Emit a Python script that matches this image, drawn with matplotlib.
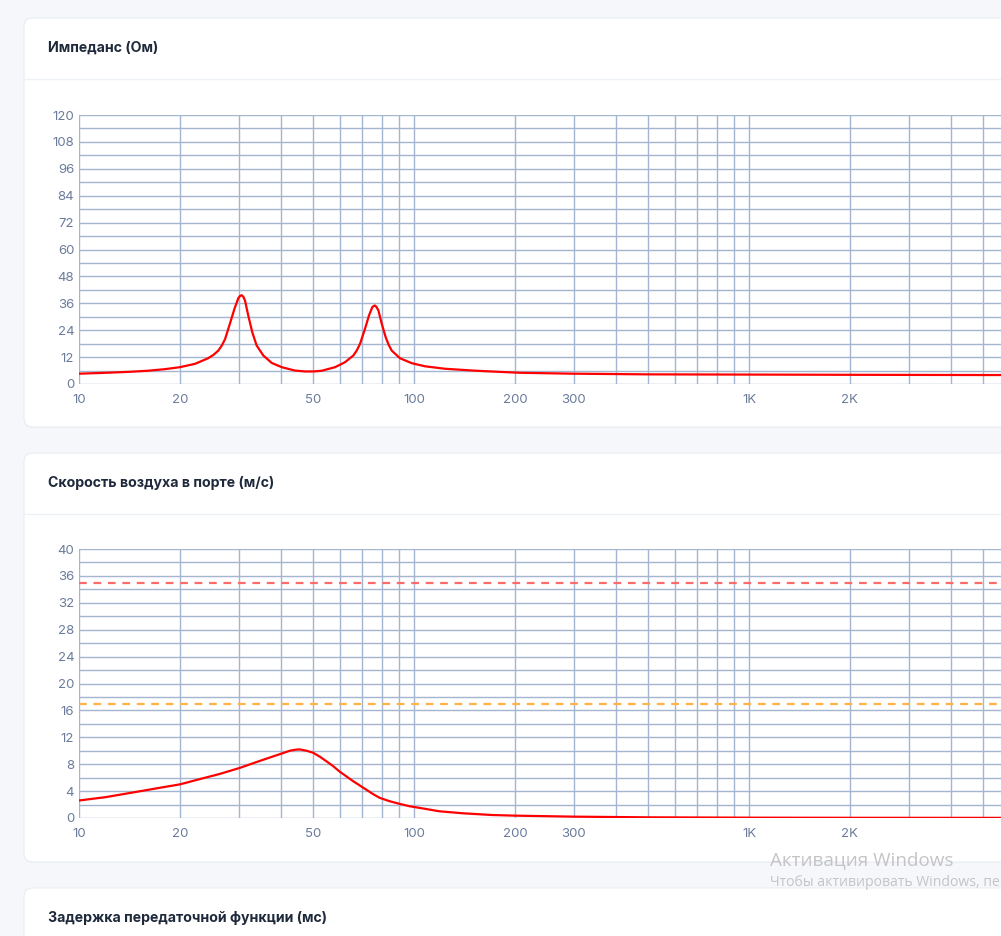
import matplotlib
matplotlib.use("Agg")
import matplotlib.pyplot as plt
from matplotlib.patches import FancyBboxPatch
from matplotlib.ticker import FixedLocator, NullFormatter
import numpy as np

# ---------------- data ----------------
imp_freq = [10, 12, 14, 16, 18, 20, 22.2, 24.3, 25.2, 26.05, 26.7, 27.3, 28.2, 29.1, 29.9, 30.25,
            30.6, 30.95, 31.3, 32.0, 32.9, 33.9, 35.5, 37.6, 40.3, 44.1, 47.3, 50, 53, 58.1,
            62.2, 65.9, 67.5, 69.0, 71.4, 73.4, 75.1, 76.0, 76.5, 77.3, 78.3, 80.1, 82.3,
            84.0, 85.8, 90.8, 98.4, 107.8, 123.7, 150, 164, 207, 300, 500, 1000, 2000, 5000,
            10000, 20000]
imp_ohm = [4.6, 5.0, 5.4, 5.9, 6.6, 7.5, 9.0, 11.5, 13.0, 14.9, 17.2, 20.1, 26.8, 33.5, 38.3,
           39.3, 39.6, 38.9, 37.2, 30.6, 23.1, 17.2, 12.7, 9.4, 7.5, 6.0, 5.6, 5.6, 5.9, 7.5,
           9.7, 12.7, 15.0, 17.9, 24.6, 30.6, 34.3, 34.9, 35.0, 34.3, 32.8, 26.9, 20.9,
           17.5, 14.9, 11.5, 9.3, 7.9, 6.8, 6.0, 5.7, 5.0, 4.6, 4.3, 4.2, 4.1, 4.0,
           4.0, 4.0]

vel_freq = [10, 12, 14.5, 17, 20, 23, 26.3, 30.2, 34.7, 39.8, 42.6, 44.2, 45.6, 47.8, 50,
            52.4, 54.9, 57.4, 60, 65.7, 72.1, 75.5, 79, 84.5, 90.6, 97, 104, 119, 140, 170,
            200, 300, 500, 1000, 2000, 5000, 20000]
vel_ms = [2.6, 3.1, 3.8, 4.4, 5.0, 5.8, 6.55, 7.45, 8.5, 9.5, 10.0, 10.15, 10.2, 10.0, 9.7,
          9.1, 8.4, 7.7, 6.9, 5.5, 4.2, 3.55, 3.0, 2.5, 2.1, 1.75, 1.5, 1.0, 0.7, 0.45,
          0.35, 0.2, 0.1, 0.05, 0.03, 0.02, 0.01]
vel_limit_red = 35
vel_limit_orange = 17

x_tick_values = [10, 20, 50, 100, 200, 300, 1000, 2000]
x_tick_labels = ["10", "20", "50", "100", "200", "300", "1K", "2K"]
imp_y_ticks = list(range(0, 121, 12))
vel_y_ticks = list(range(0, 41, 4))

titles = ["Импеданс (Ом)", "Скорость воздуха в порте (м/с)", "Задержка передаточной функции (мс)"]

# ---------------- figure ----------------
W, H = 1001, 936
fig = plt.figure(figsize=(W / 100, H / 100), dpi=100)
fig.patch.set_facecolor("#f5f7fa")

bg = fig.add_axes([0, 0, 1, 1])
bg.set_xlim(0, W)
bg.set_ylim(H, 0)
bg.axis("off")
bg.set_zorder(0)

TITLE_C = "#1e293b"
TICK_C = "#6a7b9b"
GRID_C = "#a3b5d0"

cards = [(18, 409), (453, 409), (888, 200)]
for (top, h), title in zip(cards, titles):
    shadow = FancyBboxPatch((24, top + 1), 1100, h, boxstyle="round,pad=0,rounding_size=9",
                            facecolor="#eef1f5", edgecolor="none", zorder=1)
    bg.add_patch(shadow)
    card = FancyBboxPatch((24, top), 1100, h, boxstyle="round,pad=0,rounding_size=9",
                          facecolor="white", edgecolor="#e9edf2", linewidth=0.8, zorder=2)
    bg.add_patch(card)
    bg.plot([24.5, 1001], [top + 60.5, top + 60.5], color="#eef1f5", lw=1, zorder=3)
    bg.text(48, top + 29.5, title, fontsize=10.2, fontweight="bold", color=TITLE_C,
            family=["Inter", "DejaVu Sans"], va="center", ha="left", zorder=4)

# watermark
bg.text(770, 860, "Активация Windows", fontsize=13.6, color="#c4c4c4",
        family=["Open Sans", "DejaVu Sans"], va="center", ha="left", zorder=10)
bg.text(770, 883, "Чтобы активировать Windows, перейдите в раздел \"Параметры\".", fontsize=10.1,
        color="#c4c4c4", family=["Open Sans", "DejaVu Sans"], va="center", ha="left", zorder=10)


def px_axes(left, top, right, bottom):
    return fig.add_axes([left / W, 1 - bottom / H, (right - left) / W, (bottom - top) / H])


decade_px = 335.0
x_right_px = 79 + decade_px * np.log10(20000 / 10)

minor_x = [m * 10 ** e for e in range(1, 5) for m in range(1, 10)
           if m * 10 ** e <= 20000 and m * 10 ** e not in x_tick_values]


def style_axes(ax, yticks, ymax, yminor_step):
    ax.set_xscale("log")
    ax.set_xlim(10, 20000)
    ax.set_ylim(0, ymax)
    ax.set_facecolor("none")
    for s in ax.spines.values():
        s.set_visible(False)
    ax.xaxis.set_major_locator(FixedLocator(x_tick_values))
    ax.set_xticklabels(x_tick_labels)
    ax.xaxis.set_minor_locator(FixedLocator(minor_x))
    ax.xaxis.set_minor_formatter(NullFormatter())
    ax.set_yticks(yticks)
    yminor = [v for v in np.arange(0, ymax + 0.01, yminor_step) if v not in yticks]
    ax.yaxis.set_minor_locator(FixedLocator(yminor))
    ax.tick_params(which="both", length=0)
    ax.tick_params(axis="x", pad=7, labelsize=9.5, labelcolor=TICK_C)
    ax.tick_params(axis="y", pad=3.5, labelsize=9.5, labelcolor=TICK_C)
    for lab in ax.get_xticklabels() + ax.get_yticklabels():
        lab.set_family(["Inter", "DejaVu Sans"])
    ax.grid(True, which="both", color=GRID_C, linewidth=1.0)
    ax.set_axisbelow(True)


ax1 = px_axes(79, 115, x_right_px, 384)
style_axes(ax1, imp_y_ticks, 120, 6)
ax1.plot(imp_freq, imp_ohm, color="#ff0000", lw=1.6, solid_joinstyle="round", zorder=3)

ax2 = px_axes(79, 549, x_right_px, 818)
style_axes(ax2, vel_y_ticks, 40, 2)
ax2.axhline(vel_limit_red, color="#ff6b6b", lw=1.6, dashes=(3.5, 3), zorder=3)
ax2.axhline(vel_limit_orange, color="#ffb347", lw=1.6, dashes=(3.5, 3), zorder=3)
ax2.plot(vel_freq, vel_ms, color="#ff0000", lw=1.6, solid_joinstyle="round", zorder=4)

for ax in (ax1, ax2):
    ax.set_zorder(5)

fig.savefig("out.png", dpi=100, facecolor=fig.get_facecolor())
